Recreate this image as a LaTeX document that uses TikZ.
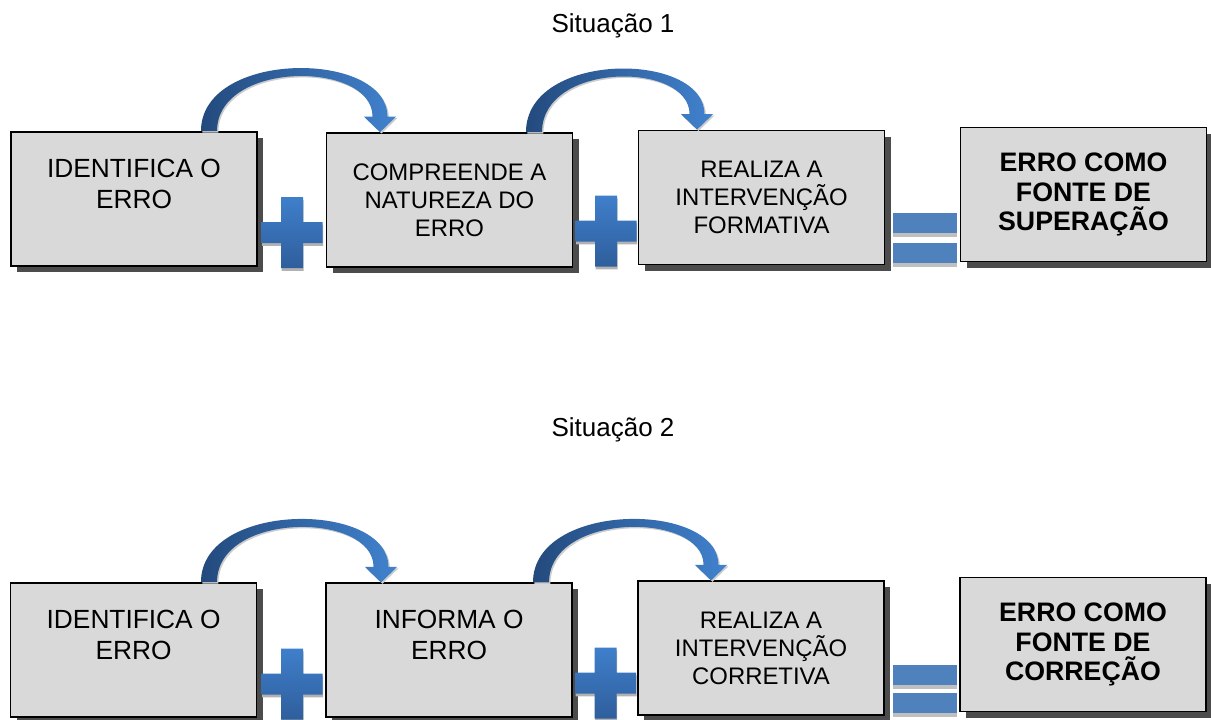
\documentclass[tikz,border=0pt]{standalone}
\usepackage{fontspec}
\setmainfont{Liberation Sans}
\usepackage{tikz}
\usetikzlibrary{calc}
\usetikzlibrary{shadows}
\definecolor{boxgray}{HTML}{D9D9D9}
\definecolor{plustop}{HTML}{3F7FCB}
\definecolor{plusbottom}{HTML}{2F5E9C}
\definecolor{equalblue}{HTML}{4F81BD}
\definecolor{arrowdark}{HTML}{234A7D}
\definecolor{arrowlight}{HTML}{4182CE}
\tikzset{
box/.style={ % Sets the properties for each box
draw, line width=1.2pt,
fill=boxgray,
minimum width=6.15cm, minimum height=3.35cm,
align=center, inner sep=2pt,
drop shadow={shadow xshift=4.3pt, shadow yshift=-4.3pt, fill=black!70, opacity=1}},
small text/.style={font=\fontsize{17pt}{19.9pt}\selectfont}, % three lines
big text/.style={font=\fontsize{18.7pt}{22pt}\selectfont}, % two lines
bold text/.style={font=\fontsize{19pt}{21pt}\selectfont\bfseries},
title/.style={anchor=base, font=\fontsize{18.5pt}{22pt}\selectfont},
bend arrow/.style={ % Curved arrow between two boxes
left color=arrowdark, right color=arrowlight,
drop shadow={shadow xshift=1pt, shadow yshift=-1pt, fill=black!20, opacity=1}},
plus/.style={top color=plustop, bottom color=plusbottom,
drop shadow={shadow xshift=0.5pt, shadow yshift=-2pt, fill=black!30, opacity=1}},
equal bar/.style={fill=equalblue,
drop shadow={shadow xshift=0pt, shadow yshift=-2.5pt, fill=black!25, opacity=1}}}
% #1 = foot of the arrow, #2 = tip of the arrow
\newcommand{\bendarrow}[2]{%
\shade[bend arrow] let \p1=#1, \p2=#2 in
(\x1-5.7pt,\y1) .. controls (\x1-5.7pt,\y1+58pt) and (\x2+5.3pt,\y1+58pt) .. (\x2+5.3pt,\y2+11pt)
-- (\x2+11.4pt,\y2+11pt) -- (\x2,\y2) -- (\x2-11.4pt,\y2+11pt) -- (\x2-5.3pt,\y2+11pt)
.. controls (\x2-5.3pt,\y1+50.4pt) and (\x1+5.7pt,\y1+50.4pt) .. (\x1+5.7pt,\y1) -- cycle;}

\begin{document}
\begin{tikzpicture}[x=0.025cm, y=0.025cm]
\useasboundingbox (0,0) rectangle (1211,-719);
\node[title] (t1) at (613,-32) {Situação 1};
\node[box, big text] (a1) at (134,-199) {IDENTIFICA O\\ERRO\\\mbox{}};
\node[box, small text] (a2) at (449.5,-200) {COMPREENDE A\\NATUREZA DO\\ERRO};
\node[box, small text] (a3) at (761.5,-197.5) {REALIZA A\\INTERVENÇÃO\\FORMATIVA};
\node[box, bold text] (a4) at (1083.5,-194.5) {ERRO COMO\\FONTE DE\\SUPERAÇÃO};
\node[title] (t2) at (613,-436) {Situação 2};
\node[box, big text] (b1) at (133.6,-650) {IDENTIFICA O\\ERRO\\\mbox{}};
\node[box, big text] (b2) at (449,-650.3) {INFORMA O\\ERRO\\\mbox{}};
\node[box, small text] (b3) at (761,-648.3) {REALIZA A\\INTERVENÇÃO\\CORRETIVA};
\node[box, bold text] (b4) at (1083,-644.5) {ERRO COMO\\FONTE DE\\CORREÇÃO};
\bendarrow{($(a1.north)+(75,0)$)}{($(a2.north)+(-69.5,0)$)}
\bendarrow{($(a2.north)+(84.5,0)$)}{($(a3.north)+(-64.5,0)$)}
\bendarrow{($(b1.north)+(75.4,0)$)}{($(b2.north)+(-68,0)$)}
\bendarrow{($(b2.north)+(92,0)$)}{($(b3.north)+(-50,0)$)}
\foreach \px/\py in {292/232.5, 606/231, 292/684, 605.5/683}
\shade[plus] (\px-11,-\py-35.5) rectangle (\px+11,-\py+35.5)
(\px-30.5,-\py-10.5) rectangle (\px+30.5,-\py+10.5);
\foreach \qy in {213,243,665,693}
\fill[equal bar] (893,-\qy) rectangle (957,-\qy-20);
\end{tikzpicture}
\end{document}
